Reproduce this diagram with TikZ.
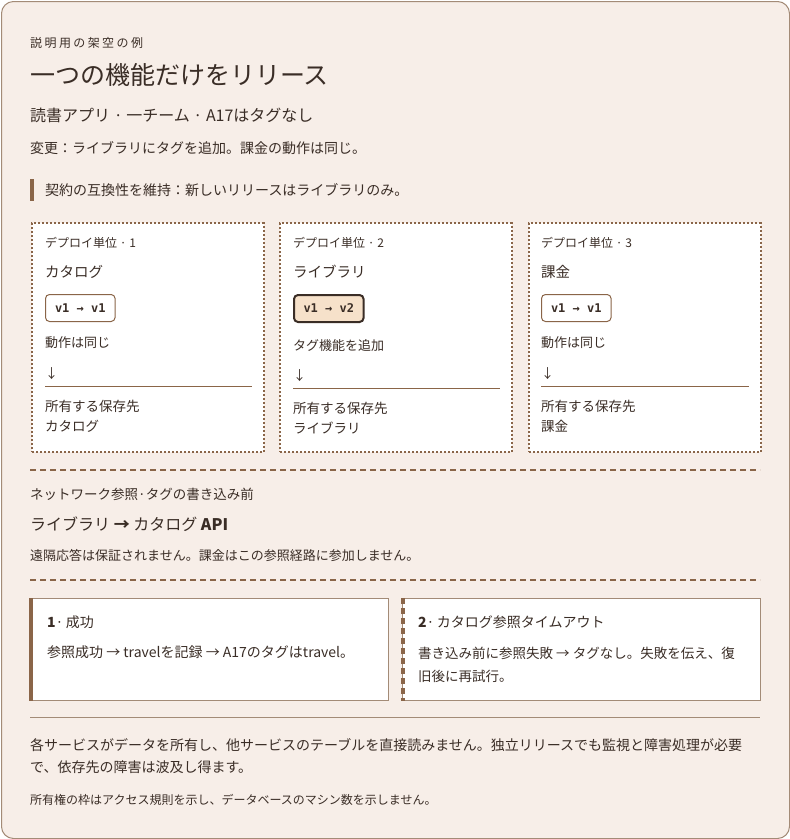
\documentclass[tikz,border=0pt]{standalone}
\usepackage{fontspec}
\setmainfont{Noto Sans CJK JP}
\setmonofont{DejaVu Sans Mono}
\usetikzlibrary{positioning, calc}

\definecolor{paper}{HTML}{F7EEE8}
\definecolor{frame}{HTML}{A38B77}
\definecolor{ink}{HTML}{3A2D26}
\definecolor{bark}{HTML}{8A6548}
\definecolor{peach}{HTML}{F6E1CA}

\tikzset{
  txt/.style={anchor=west, inner sep=0pt, text=ink, font=\fontsize{13}{16}\selectfont},
  unitbox/.style={draw=bark, line width=2pt, dash pattern=on 2pt off 2pt, fill=white,
    anchor=north west, minimum width=231.5pt, minimum height=229pt, inner sep=0pt},
  ver/.style={draw=bark, rounded corners=4pt, fill=white, line width=1pt, text=ink,
    font=\ttfamily\bfseries\fontsize{12}{14}\selectfont, minimum height=27pt,
    inner xsep=9.5pt, anchor=north west},
  vernew/.style={ver, fill=peach, draw=ink, line width=2pt},
  sep/.style={bark, line width=2pt, dash pattern=on 6pt off 4pt},
  casebox/.style={draw=frame, line width=1pt, fill=white, anchor=north west,
    minimum width=358pt, minimum height=102pt, inner sep=0pt}
}

\begin{document}
\begin{tikzpicture}[x=1pt, y=-1pt]
  \useasboundingbox (0,0) rectangle (790,839);
  \node[draw=frame, fill=paper, line width=1pt, rounded corners=12pt, anchor=north west,
    minimum width=788pt, minimum height=837pt, inner sep=0pt] (card) at (1,1) {};

  % heading
  \node[txt, font=\fontsize{12}{15}\selectfont\addfontfeature{LetterSpace=20}] (kicker) at (30,43) {説明用の架空の例};
  \node[txt, font=\fontsize{25}{29}\selectfont] (title) at (30,75) {一つの機能だけをリリース};
  \node[txt, font=\fontsize{16}{19}\selectfont] (sub) at (30,115) {読書アプリ · 一チーム · A17はタグなし};
  \node[txt, font=\fontsize{14}{17}\selectfont] (change) at (30,148) {変更：ライブラリにタグを追加。課金の動作は同じ。};
  \node[fill=bark, minimum width=4pt, minimum height=22pt, inner sep=0pt, anchor=north west] (bar) at (30,179) {};
  \node[txt, font=\fontsize{14}{17}\selectfont] (contract) at (45,190) {契約の互換性を維持：新しいリリースはライブラリのみ。};

  % deploy units
  \node[unitbox] (unit1) at (31,222) {};
  \node[unitbox] (unit2) at (279,222) {};
  \node[unitbox] (unit3) at (528,222) {};

  \node[txt, font=\fontsize{12}{14}\selectfont] (lab1) at ($(unit1.north west)+(14,21)$) {デプロイ単位 · 1};
  \node[txt, font=\fontsize{14.5}{17}\selectfont] (name1) at ($(unit1.north west)+(14,50)$) {カタログ};
  \node[ver] (ver1) at ($(unit1.north west)+(14,72)$) {v1 → v1};
  \node[txt] (does1) at ($(unit1.north west)+(14,121)$) {動作は同じ};
  \node[txt] (down1) at ($(unit1.north west)+(14,152)$) {↓};
  \draw[bark, line width=1pt] ($(unit1.north west)+(14,164)$) -- ($(unit1.north east)+(-13,164)$);
  \node[txt, font=\fontsize{13.5}{16}\selectfont] (own1) at ($(unit1.north west)+(14,184)$) {所有する保存先};
  \node[txt, font=\fontsize{13.5}{16}\selectfont] (store1) at ($(unit1.north west)+(14,204)$) {カタログ};

  \node[txt, font=\fontsize{12}{14}\selectfont] (lab2) at ($(unit2.north west)+(14,21)$) {デプロイ単位 · 2};
  \node[txt, font=\fontsize{14.5}{17}\selectfont] (name2) at ($(unit2.north west)+(14,50)$) {ライブラリ};
  \node[vernew] (ver2) at ($(unit2.north west)+(14,72)$) {v1 → v2};
  \node[txt] (does2) at ($(unit2.north west)+(14,124)$) {タグ機能を追加};
  \node[txt] (down2) at ($(unit2.north west)+(14,154)$) {↓};
  \draw[bark, line width=1pt] ($(unit2.north west)+(14,166)$) -- ($(unit2.north east)+(-13,166)$);
  \node[txt, font=\fontsize{13.5}{16}\selectfont] (own2) at ($(unit2.north west)+(14,186)$) {所有する保存先};
  \node[txt, font=\fontsize{13.5}{16}\selectfont] (store2) at ($(unit2.north west)+(14,206)$) {ライブラリ};

  \node[txt, font=\fontsize{12}{14}\selectfont] (lab3) at ($(unit3.north west)+(13,21)$) {デプロイ単位 · 3};
  \node[txt, font=\fontsize{14.5}{17}\selectfont] (name3) at ($(unit3.north west)+(13,50)$) {課金};
  \node[ver] (ver3) at ($(unit3.north west)+(13,72)$) {v1 → v1};
  \node[txt] (does3) at ($(unit3.north west)+(13,121)$) {動作は同じ};
  \node[txt] (down3) at ($(unit3.north west)+(13,152)$) {↓};
  \draw[bark, line width=1pt] ($(unit3.north west)+(13,164)$) -- ($(unit3.north east)+(-13,164)$);
  \node[txt, font=\fontsize{13.5}{16}\selectfont] (own3) at ($(unit3.north west)+(13,184)$) {所有する保存先};
  \node[txt, font=\fontsize{13.5}{16}\selectfont] (store3) at ($(unit3.north west)+(13,204)$) {課金};

  % network lookup
  \coordinate (sepA) at (30,470);
  \coordinate (sepB) at (760,470);
  \draw[sep] (sepA) -- (sepB);
  \node[txt, font=\fontsize{13.5}{16}\selectfont] (net) at (30,494) {ネットワーク参照·タグの書き込み前};
  \node[txt, font=\fontsize{16}{19}\selectfont] (path) at (30,524) {ライブラリ \textbf{→} カタログ \textbf{API}};
  \node[txt, font=\fontsize{13}{15}\selectfont] (remote) at (30,555) {遠隔応答は保証されません。課金はこの参照経路に参加しません。};
  \coordinate (sepC) at (30,580);
  \coordinate (sepD) at (760,580);
  \draw[sep] (sepC) -- (sepD);

  % outcomes
  \node[casebox] (ok) at (30,598) {};
  \node[casebox] (fail) at (402,598) {};
  \draw[bark, line width=3.5pt] ($(ok.north west)+(1.2,0)$) -- ($(ok.south west)+(1.2,0)$);
  \draw[bark, line width=3.5pt, dash pattern=on 6pt off 4pt] ($(fail.north west)+(1.2,0)$) -- ($(fail.south west)+(1.2,0)$);
  \node[txt, font=\fontsize{14}{17}\selectfont] (okhead) at (47,622) {\textbf{1}·\,成功};
  \node[txt, font=\fontsize{14}{17}\selectfont] (oktext) at (47,652) {参照成功 → travelを記録 → A17のタグはtravel。};
  \node[txt, font=\fontsize{14}{17}\selectfont] (failhead) at (418,622) {\textbf{2}·\,カタログ参照タイムアウト};
  \node[txt, font=\fontsize{13.5}{23}\selectfont, align=left] (failtext) at (418,664.5)
    {書き込み前に参照失敗 → タグなし。失敗を伝え、復\\旧後に再試行。};

  % footer
  \coordinate (ruleA) at (30,717);
  \coordinate (ruleB) at (760,717);
  \draw[frame, line width=1pt] (ruleA) -- (ruleB);
  \node[txt, font=\fontsize{14}{22}\selectfont, align=left] (note) at (30,756)
    {各サービスがデータを所有し、他サービスのテーブルを直接読みません。独立リリースでも監視と障害処理が必要\\で、依存先の障害は波及し得ます。};
  \node[txt, font=\fontsize{12}{14}\selectfont] (small) at (30,800) {所有権の枠はアクセス規則を示し、データベースのマシン数を示しません。};
\end{tikzpicture}
\end{document}
